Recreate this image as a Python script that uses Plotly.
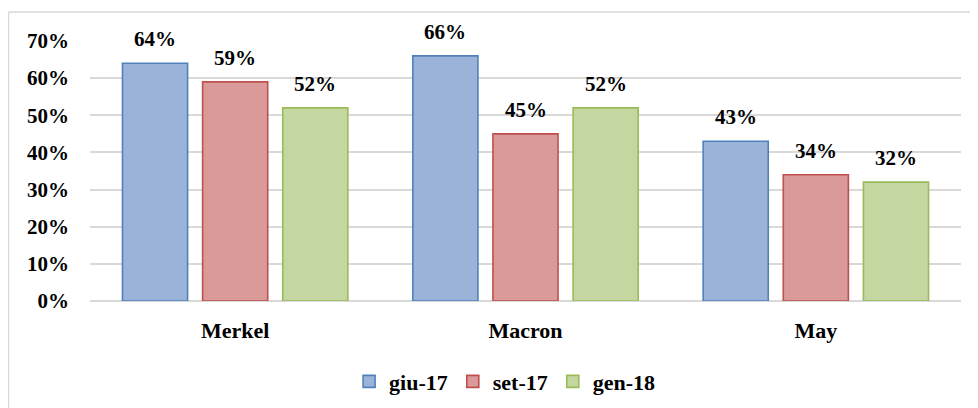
import plotly.graph_objects as go

leaders = ["Merkel", "Macron", "May"]
series_names = ["giu-17", "set-17", "gen-18"]
giu_17 = [0.64, 0.66, 0.43]
set_17 = [0.59, 0.45, 0.34]
gen_18 = [0.52, 0.52, 0.32]
y_ticks = [0, 0.1, 0.2, 0.3, 0.4, 0.5, 0.6, 0.7]

fills = ["#9cb3d9", "#d99a99", "#c4d7a1"]
borders = ["#4f81bd", "#c0504d", "#9bbb59"]
font_family = "Liberation Serif, DejaVu Serif, serif"


def bold(size):
    return {"family": font_family, "size": size, "color": "#000000", "weight": "bold"}


bargap = 0.172
fig = go.Figure()
for i, (name, values, fill, border) in enumerate(
    zip(series_names, [giu_17, set_17, gen_18], fills, borders)
):
    fig.add_trace(
        go.Bar(
            x=leaders,
            y=values,
            name=name,
            offsetgroup=str(i),
            marker={"color": fill, "line": {"color": border, "width": 1.6}},
        )
    )

# data labels sit a little above each bar, as in the original
slot = (1 - bargap) / len(series_names)
for i, values in enumerate([giu_17, set_17, gen_18]):
    for j, v in enumerate(values):
        fig.add_annotation(
            x=j - (1 - bargap) / 2 + slot * (i + 0.5),
            y=v,
            xref="x",
            yref="y",
            text=f"{v:.0%}",
            showarrow=False,
            yanchor="bottom",
            yshift=10,
            font=bold(21),
        )

fig.update_layout(
    width=970,
    height=400,
    margin={"l": 82, "r": 17, "t": 33, "b": 107, "autoexpand": False},
    paper_bgcolor="white",
    plot_bgcolor="white",
    barmode="group",
    bargap=bargap,
    bargroupgap=0.1875,
    font=bold(20),
    showlegend=True,
    legend={
        "orientation": "h",
        "x": 0.476,
        "xanchor": "center",
        "y": -0.31,
        "yanchor": "middle",
        "font": bold(22),
        "traceorder": "normal",
        "itemwidth": 30,
    },
    shapes=[
        {"type": "line", "xref": "paper", "yref": "paper",
         "x0": -0.0936, "x1": 1.018, "y0": 1.1115, "y1": 1.1115,
         "line": {"color": "#d9d9d9", "width": 1.5}},
        {"type": "line", "xref": "paper", "yref": "paper",
         "x0": -0.0936, "x1": -0.0936, "y0": 1.1115, "y1": -0.5,
         "line": {"color": "#d9d9d9", "width": 1.5}},
    ],
)
fig.update_xaxes(
    showgrid=False,
    showline=False,
    ticks="",
    ticklabelstandoff=14,
    tickfont=bold(22),
)
fig.update_yaxes(
    range=[0, 0.7],
    tickvals=y_ticks,
    tickformat=".0%",
    showgrid=True,
    gridcolor="#d9d9d9",
    gridwidth=1.5,
    zeroline=True,
    zerolinecolor="#d9d9d9",
    zerolinewidth=1.5,
    showline=False,
    ticks="",
    ticklabelstandoff=20,
    tickfont=bold(21),
)

fig.write_html("out.html")
